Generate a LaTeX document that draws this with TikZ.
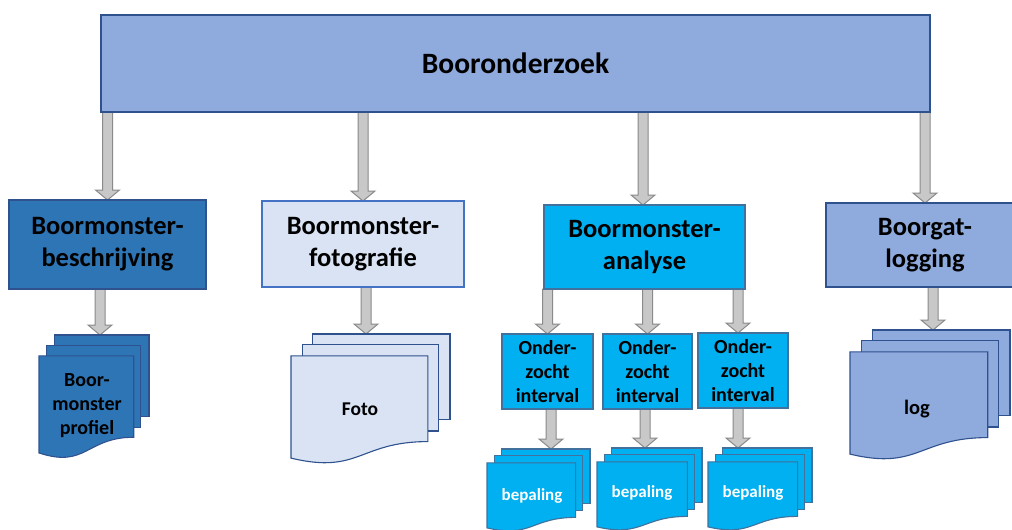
\documentclass[tikz,border=0pt]{standalone}
\usepackage{fontspec}
\setmainfont{Carlito}
\usetikzlibrary{calc,backgrounds}
\definecolor{topfill}{HTML}{8FAADC}
\definecolor{darkedge}{HTML}{2F528F}
\definecolor{afill}{HTML}{2E75B6}
\definecolor{bfill}{HTML}{DAE3F3}
\definecolor{bedge}{HTML}{4472C4}
\definecolor{cfill}{HTML}{00B0F0}
\definecolor{cedge}{HTML}{41719C}
\definecolor{arrfill}{HTML}{C8C8C8}
\definecolor{arredge}{HTML}{8A8A8A}
\tikzset{
  boxst/.style={draw, line width=1.2pt, inner sep=0pt, outer sep=0pt, align=center, font=\bfseries},
  docline/.style={line width=1.1pt, line join=miter},
  arrowst/.style={fill=arrfill, draw=arredge, line width=1pt, line join=miter},
  l2font/.style={font=\fontsize{26.5}{32}\selectfont\bfseries},
  l3font/.style={font=\fontsize{20}{24}\selectfont\bfseries},
  doctext/.style={align=center, inner sep=0pt},
}
% multidocument stack: name, left x, top y, W, H, fill, draw, arrow x
\newcommand\mdoc[8]{%
  \begin{scope}[shift={(#2,#3)}, x=#4pt, y=-#5pt]
    \filldraw[fill=#6, draw=#7, docline] (0.138,0) rectangle (1,0.666);
    \filldraw[fill=#6, draw=#7, docline] (0.071,0.084) rectangle (0.926,0.752);
    \filldraw[fill=#6, draw=#7, docline] (0,0.170) -- (0.861,0.170) -- (0.861,0.834)
       .. controls (0.43,0.834) and (0.43,1.09) .. (0,0.962) -- cycle;
  \end{scope}
  \coordinate (#1) at (#8,#3);
}
% block arrow from the y of #1 down to the point #2
\newcommand\barrow[2]{%
  \path[arrowst] let \p1=(#1), \p2=(#2) in
    (\x2-5pt,\y1) -- (\x2+5pt,\y1) -- (\x2+5pt,\y2+10pt) -- (\x2+12pt,\y2+10pt)
    -- (\x2,\y2) -- (\x2-12pt,\y2+10pt) -- (\x2-5pt,\y2+10pt) -- cycle;
}
\begin{document}
\begin{tikzpicture}[x=1pt,y=-1pt]
\useasboundingbox (0,0) rectangle (1012,530);
\clip (0,0) rectangle (1012,530);

% top box
\node[boxst, fill=topfill, draw=darkedge, minimum width=829pt, minimum height=97pt,
      font=\fontsize{29.5}{34}\selectfont\bfseries] (top) at (515.5,63.5) {Booronderzoek};

% level 2
\node[boxst, l2font, fill=afill, draw=darkedge, minimum width=197pt, minimum height=89pt]
  (A) at (107.5,244.5) {Boormonster-\\beschrijving};
\node[boxst, l2font, fill=bfill, draw=bedge, minimum width=202pt, minimum height=86pt]
  (B) at (363,244) {Boormonster-\\fotografie};
\node[boxst, l2font, fill=cfill, draw=cedge, minimum width=201pt, minimum height=84pt]
  (C) at (644.5,247) {Boormonster-\\analyse};
\node[boxst, l2font, fill=topfill, draw=darkedge, minimum width=198pt, minimum height=84pt]
  (D) at (925,245) {Boorgat-\\logging};

% level 3 under C
\node[boxst, l3font, fill=cfill, draw=cedge, minimum width=91pt, minimum height=75pt]
  (O1) at (547.5,371.5) {Onder-\\zocht\\interval};
\node[boxst, l3font, fill=cfill, draw=cedge, minimum width=89pt, minimum height=75pt]
  (O2) at (647.5,371.5) {Onder-\\zocht\\interval};
\node[boxst, l3font, fill=cfill, draw=cedge, minimum width=90pt, minimum height=75pt]
  (O3) at (743,370.5) {Onder-\\zocht\\interval};

% document stacks
\mdoc{dA}{39}{335}{110}{122.6}{afill}{darkedge}{100}
\mdoc{dB}{291}{334}{159}{129}{bfill}{darkedge}{366}
\mdoc{dD}{850}{330}{160}{129}{topfill}{darkedge}{933}
\mdoc{e1}{487}{449}{103}{82}{cfill}{cedge}{551}
\mdoc{e2}{597}{448}{105}{82}{cfill}{cedge}{645}
\mdoc{e3}{708}{448}{104}{82}{cfill}{cedge}{738}

\node[doctext, l3font] (tA) at (87,406) {Boor-\\monster\\profiel};
\node[doctext, font=\fontsize{19.5}{23}\selectfont\bfseries] (tB) at (360,409) {Foto};
\node[doctext, font=\fontsize{20.5}{24}\selectfont\bfseries] (tD) at (917,409) {log};
\node[doctext, text=white, font=\fontsize{17}{20}\selectfont\bfseries] (t1) at (532,496) {bepaling};
\node[doctext, text=white, font=\fontsize{17}{20}\selectfont\bfseries] (t2) at (642,493) {bepaling};
\node[doctext, text=white, font=\fontsize{17}{20}\selectfont\bfseries] (t3) at (753,493) {bepaling};

% arrows, behind the boxes
\begin{scope}[on background layer]
\fill[white] (0,0) rectangle (1012,530);
\barrow{top.south}{A.north}
\barrow{top.south}{B.north}
\barrow{top.south}{[xshift=-1.5pt]C.north}
\barrow{top.south}{D.north}
\barrow{A.south}{dA}
\barrow{B.south}{dB}
\barrow{D.south}{dD}
\barrow{C.south}{O1.north}
\barrow{C.south}{O2.north}
\barrow{C.south}{[xshift=-5pt]O3.north}
\barrow{O1.south}{e1}
\barrow{O2.south}{e2}
\barrow{O3.south}{e3}
\end{scope}
\end{tikzpicture}
\end{document}
